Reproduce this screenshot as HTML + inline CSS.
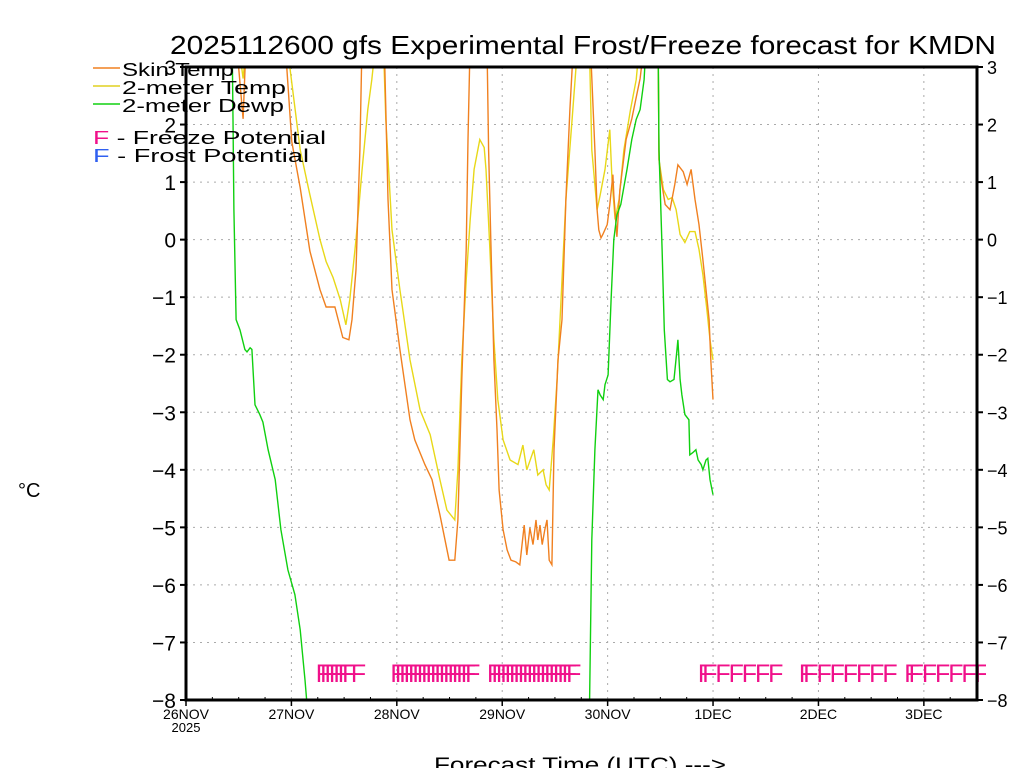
<!DOCTYPE html>
<html><head><meta charset="utf-8"><style>
html,body{margin:0;padding:0;background:#fff;}
svg{display:block;font-family:"Liberation Sans",sans-serif;}
</style></head><body>
<svg id="chart" width="1024" height="768" viewBox="0 0 1024 768">
<defs><clipPath id="plotclip"><rect x="186" y="67" width="791" height="633"/></clipPath>
<clipPath id="fclip"><rect x="186" y="60" width="800" height="640"/></clipPath></defs>
<g id="grid"></g>
<g id="series" clip-path="url(#plotclip)"></g>
<g id="marks"></g>
<g id="axes"></g>
<text x="583" y="54" font-size="26" text-anchor="middle" textLength="826" lengthAdjust="spacingAndGlyphs">2025112600 gfs Experimental Frost/Freeze forecast for KMDN</text>
<text x="18" y="497" font-size="20">°C</text>
<text x="580" y="772" font-size="21" text-anchor="middle" textLength="292" lengthAdjust="spacingAndGlyphs">Forecast Time (UTC) ---&gt;</text>
<g font-size="18">
<line x1="93" y1="68" x2="120" y2="68" stroke="#f08020" stroke-width="1.5"/>
<text x="122" y="76" textLength="112" lengthAdjust="spacingAndGlyphs">Skin Temp</text>
<line x1="93" y1="86" x2="120" y2="86" stroke="#e0d020" stroke-width="1.5"/>
<text x="122" y="94" textLength="164" lengthAdjust="spacingAndGlyphs">2-meter Temp</text>
<line x1="93" y1="104" x2="120" y2="104" stroke="#10d010" stroke-width="1.5"/>
<text x="122" y="112" textLength="162" lengthAdjust="spacingAndGlyphs">2-meter Dewp</text>
<text x="93" y="144" textLength="233" lengthAdjust="spacingAndGlyphs"><tspan fill="#f0108a">F</tspan> - Freeze Potential</text>
<text x="93" y="162" textLength="216" lengthAdjust="spacingAndGlyphs"><tspan fill="#3060f0">F</tspan> - Frost Potential</text>
</g>
</svg>
<script>
const NS='http://www.w3.org/2000/svg';
// ================= CHART DATA (hours since 26NOV 00Z, degC) =================
const skinHours=[10,11.4,13,13.7,22.5,24.1,26,28.2,30.5,31.9,33.9,35.7,37.1,37.8,38.7,39.6,40.1,45.1,46,46.9,48.7,51,52.1,54.4,56,57.8,59.9,61.2,61.9,62.8,63.8,64.2,64.7,68.5,68.9,69.4,70.1,70.8,71.3,72.2,73.1,74,75.1,76,77,77.6,78.3,79,79.7,80.1,80.6,81.1,81.7,82.2,82.7,83.3,83.8,84.7,85.6,86.5,87.4,88.3,92,93.1,93.6,94,94.5,94.9,95.9,96.5,97.2,97.4,98.1,98.8,100.2,101.5,103.4,104.5,107.5,107.7,108.2,109.1,110.2,111.3,112,113.2,114.1,115,115.9,116.8,117.7,118.4,119.1,119.5,120];
const skinTemp=[3.5,3.5,2.1,3.5,3.5,1.7,0.9,-0.2,-0.87,-1.17,-1.17,-1.7,-1.74,-1.39,-0.52,1.56,3.5,3.5,0.7,-0.87,-1.91,-3.13,-3.48,-3.91,-4.17,-4.78,-5.57,-5.57,-4.87,-2.43,-0.17,1.74,3.5,3.5,1.56,0,-2.09,-3.3,-4.35,-5.04,-5.39,-5.57,-5.6,-5.65,-4.96,-5.48,-5.01,-5.3,-4.87,-5.22,-4.96,-5.3,-5.04,-4.87,-5.57,-5.65,-3.65,-2.09,-1.39,0.7,2.26,3.5,3.5,1.56,0.52,0.17,0.03,0.09,0.26,0.61,1.13,0.78,0.05,0.87,1.74,2.1,2.8,3.5,3.5,1.39,1.04,0.61,0.52,0.96,1.3,1.18,0.96,1.22,0.7,0.26,-0.35,-0.87,-1.39,-2.09,-2.78];
const tempHours=[10.7,11.8,13,13.9,22.5,23.7,26,28.2,30.5,31.9,33.5,35.1,36.4,37.3,38.7,40.1,41.4,42.3,43.3,44.9,45.5,46.9,48.7,51,53.3,55.6,57.8,59.4,61.2,61.9,62.8,63.8,64.7,65.6,66.9,67.9,68.3,69.2,70.1,71,72.2,73.8,75.6,76.7,77.6,79.2,80.1,81.3,82,82.7,83.6,84.5,85.6,86.5,87.9,89.3,91.8,92.4,93.6,94.3,95.4,96.5,97,97.7,98.6,99.7,101.2,102.5,103.4,107.5,107.7,108.7,109.8,110.7,111.6,112.5,113.6,114.7,115.9,116.8,117.7,118.6,119.3,120];
const temp2m=[3.5,3.5,2.8,3.5,3.5,2.96,1.56,0.78,0,-0.38,-0.66,-1.04,-1.48,-1.04,0,1.22,2.26,2.78,3.5,3.5,2.09,0.17,-0.87,-2.09,-2.96,-3.39,-4.17,-4.7,-4.87,-4.0,-2.09,-0.7,0.35,1.22,1.74,1.6,1.22,-0.17,-1.74,-2.78,-3.48,-3.83,-3.91,-3.57,-4.0,-3.65,-4.09,-4.0,-4.26,-4.35,-3.48,-2.43,-0.7,0.7,2.09,3.5,3.5,1.56,0.52,0.78,1.22,1.91,1.04,0.35,0.7,1.56,2.26,2.78,3.5,3.5,1.39,0.87,0.7,0.73,0.52,0.09,-0.05,0.14,0.14,-0.17,-0.61,-1.22,-1.74,-2.09];
const dewHours1=[10.5,10.7,10.9,11.4,12.3,13.4,13.9,14.6,15,15.7,16.8,17.5,18.7,20.3,21.6,23.2,24.8,26,27.1,28];
const dewVals1=[3.5,2.09,0.52,-1.39,-1.57,-1.91,-1.95,-1.88,-1.91,-2.87,-3.04,-3.17,-3.65,-4.17,-5.04,-5.74,-6.17,-6.78,-7.65,-8.5];
const dewHours2=[91.8,92.4,93.1,93.8,94.3,95,95.4,96.1,96.8,97.4,98.1,99,100.4,101.5,102.5,103.4,104.3,104.8,107.5,107.7,108.4,108.9,109.6,110.2,111.1,111.8,112,112.5,112.9,113.6,114.5,114.7,115.4,116.1,116.6,117.3,117.7,118.4,118.8,119.3,120];
const dewVals2=[-8.5,-5.22,-3.65,-2.61,-2.7,-2.78,-2.52,-2.35,-1.04,0,0.43,0.61,1.22,1.74,2.09,2.26,2.78,3.5,3.5,1.56,-0.17,-1.57,-2.43,-2.47,-2.43,-1.91,-1.74,-2.43,-2.7,-3.04,-3.13,-3.74,-3.7,-3.65,-3.83,-3.91,-4.0,-3.83,-3.8,-4.17,-4.43];
const freezeHours=[30,31,32,33,34,35,36,38,47,48,49,50,51,52,53,54,55,56,57,58,59,60,61,62,63,64,69,70,71,72,73,74,75,76,77,78,79,80,81,82,83,84,85,86,87,117,118,121,124,127,130,133,140,141,144,147,150,153,156,159,164,165,168,171,174,177,180];
const yTicks=[-8,-7,-6,-5,-4,-3,-2,-1,0,1,2,3];
const dayLabels=['26NOV','27NOV','28NOV','29NOV','30NOV','1DEC','2DEC','3DEC'];
// ================= AXES =================
const X0=186,X1=977,Y0=67,Y1=700,HMAX=180.1,VMIN=-8,VMAX=3;
function xs(h){return X0+(h/HMAX)*(X1-X0);}
function ys(v){return Y1-(v-VMIN)/(VMAX-VMIN)*(Y1-Y0);}
function mk(tag,attrs,parent){const e=document.createElementNS(NS,tag);for(const k in attrs)e.setAttribute(k,attrs[k]);parent.appendChild(e);return e;}
const grid=document.getElementById('grid'),axes=document.getElementById('axes'),series=document.getElementById('series'),marks=document.getElementById('marks');
yTicks.forEach(v=>{
  const y=ys(v);
  if(v>VMIN&&v<VMAX){const g=mk('line',{x1:X0,x2:X1,y1:y,y2:y,stroke:'#aaa','stroke-dasharray':'2,5'},grid);
  
  }
  const t1=mk('line',{x1:X0-6,x2:X0,y1:y,y2:y,stroke:'#000','stroke-width':2},axes);
  
  
  const t2=mk('line',{x1:X1,x2:X1+6,y1:y,y2:y,stroke:'#000','stroke-width':2},axes);
  
  
  const lab=(v<0?'\u2212':'')+Math.abs(v);
  const l=mk('text',{x:176,y:y+8,'font-size':21,'text-anchor':'end'},axes);l.textContent=lab;
  
  
  const r=mk('text',{x:987,y:y+7,'font-size':18},axes);r.textContent=lab;
  
  
});
dayLabels.forEach((d,i)=>{
  const x=xs(i*24);
  if(i>0){const g=mk('line',{x1:x,x2:x,y1:Y0,y2:Y1,stroke:'#aaa','stroke-dasharray':'2,5'},grid);
  
  }
  const t=mk('line',{x1:x,x2:x,y1:Y1,y2:Y1+6,stroke:'#000','stroke-width':1.5},axes);
  
  
  const l=mk('text',{x:x,y:719,'font-size':14,'text-anchor':'middle'},axes);l.textContent=d;
  
  
});
for(let h=6;h<HMAX;h+=6){if(h%24===0)continue;const x=xs(h);
  const t=mk('line',{x1:x,x2:x,y1:Y1-3,y2:Y1,stroke:'#000'},axes);
  
  }
const yr=mk('text',{x:X0,y:732,'font-size':13,'text-anchor':'middle'},axes);yr.textContent='2025';


const frame=mk('rect',{x:X0,y:Y0,width:X1-X0,height:Y1-Y0,fill:'none',stroke:'#000','stroke-width':3},axes);


// ================= SERIES =================
function line(hs,vs,color,name){
  const d=hs.map((h,i)=>(i?'L':'M')+xs(h).toFixed(1)+','+ys(vs[i]).toFixed(1)).join('');
  const p=mk('path',{d:d,fill:'none',stroke:color,'stroke-width':1.4},series);
  
  
}
line(tempHours,temp2m,'#e8d818','temp-2m-line');
line(skinHours,skinTemp,'#f08020','skin-temp-line');
line(dewHours1,dewVals1,'#10d010','dewpoint-line-1');
line(dewHours2,dewVals2,'#10d010','dewpoint-line-2');
// ================= MARKERS =================
freezeHours.forEach(h=>{
  const t=mk('text',{x:xs(h)-2,y:682,'font-size':25,fill:'#f0108a','clip-path':'url(#fclip)'},marks);
  t.textContent='F';
  
  
});
</script>
</body></html>
